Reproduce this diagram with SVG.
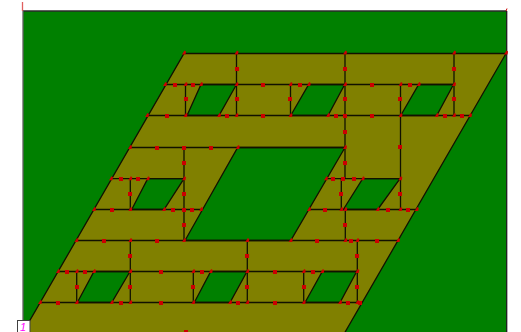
<svg xmlns="http://www.w3.org/2000/svg" xmlns:xlink="http://www.w3.org/1999/xlink" width="521" height="332" viewBox="0 0 521 332">
<style>
.frame{fill:#008000;stroke:none}
.sheet{fill:#808000;stroke:#111100;stroke-width:1.3;fill-rule:evenodd}
.link{fill:none;stroke:#111100;stroke-width:1.3}
.mid{fill:#cc0000;shape-rendering:crispEdges}
.vtx{fill:#cc0000}
.label{font-family:"Liberation Sans",Arial,sans-serif;font-size:11px;font-style:italic;fill:#ff00ff}
</style>
<defs>
<rect id="m" class="mid" x="-2" y="-2" width="4" height="4"/>
<path id="v" class="vtx" d="M-2 1.500 L0.500 -2.500 L2 -1.500 L1.500 1.500 Z"/>
</defs>
<rect width="521" height="332" fill="#ffffff"/>
<g id="field">
<rect class="frame" x="23" y="11" width="483.500" height="321"/>
<path d="M23 11H506.500" stroke="#2a2a2a" stroke-width="1.300" fill="none"/>
<path d="M23 11V320" stroke="#606060" stroke-width="1.300" fill="none"/>
<path d="M506.500 11V332" stroke="#202020" stroke-width="1" fill="none"/>
<path d="M507.500 11V332" stroke="#b0b0b0" stroke-width="1" fill="none"/>
<path d="M22.500 2V11" stroke="#e06060" stroke-width="1.300" fill="none"/>
<path d="M506 11L507 8.500" stroke="#cc0000" stroke-width="1" fill="none"/>
</g>
<g id="sheet">
<path class="sheet" d="M184 53.500H506L344 334H22Z
M201 84.500H236.500L219 115.500H187Z
M308.700 84.500H344.700L328 115.500H290.700Z
M418.700 84.500H453.500L436.700 115.500H400.700Z
M237.700 147.500H345L290.700 240.500H185Z
M147.700 178.700H184L164 209.500H131.700Z
M362.700 178.700H400L377.700 209.500H343.300Z
M94 271.500H130L111.700 302.500H77.300Z
M210.700 271.500H247L230 302.500H194.300Z
M322.300 271.500H356.700L340 302.500H305Z"/>
</g>
<g id="connectors">
<path class="link" d="M165 84.500H454M147 115.500H470M130 147.500H345M111 178.700H184M326 178.700H400M94 209.500H201M309 209.500H416.700M76 240.500H398M58 271.500H357M40 302.500H361.500"/>
<path class="link" d="M236.500 53V115.500M345 53V178.700M454 53V115.500M185.500 84.500V115.500M290.500 84.500V115.500M400.500 84.500V209.500M184 147.500V240.500M130.300 178.700V209.500M341.300 178.700V209.500M345.300 209.500V240.500M130.300 240.500V302.500M247.300 240.500V302.500M357.300 240.500V302.500M76.700 271.500V302.500M193.300 271.500V302.500M303.700 271.500V302.500"/>
</g>
<g id="vertices">
<use href="#v" x="184" y="53"/><use href="#v" x="236.500" y="53"/><use href="#v" x="345" y="53"/><use href="#v" x="454" y="53"/><use href="#v" x="506" y="53"/>
<use href="#v" x="165" y="84.500"/><use href="#v" x="185.500" y="84.500"/><use href="#v" x="201" y="84.500"/><use href="#v" x="236.500" y="84.500"/><use href="#v" x="290.500" y="84.500"/><use href="#v" x="308.700" y="84.500"/><use href="#v" x="345" y="84.500"/><use href="#v" x="400.500" y="84.500"/><use href="#v" x="418.700" y="84.500"/><use href="#v" x="454" y="84.500"/>
<use href="#v" x="147" y="115.500"/><use href="#v" x="185.500" y="115.500"/><use href="#v" x="219" y="115.500"/><use href="#v" x="236.500" y="115.500"/><use href="#v" x="290.500" y="115.500"/><use href="#v" x="328" y="115.500"/><use href="#v" x="400.500" y="115.500"/><use href="#v" x="436.700" y="115.500"/><use href="#v" x="454" y="115.500"/><use href="#v" x="470" y="115.500"/>
<use href="#v" x="130" y="147.500"/><use href="#v" x="237.700" y="147.500"/><use href="#v" x="345" y="147.500"/>
<use href="#v" x="111" y="178.700"/><use href="#v" x="130.300" y="178.700"/><use href="#v" x="147.700" y="178.700"/><use href="#v" x="184" y="178.700"/><use href="#v" x="326" y="178.700"/><use href="#v" x="362.700" y="178.700"/><use href="#v" x="400.300" y="178.700"/>
<use href="#v" x="94" y="209.500"/><use href="#v" x="130.300" y="209.500"/><use href="#v" x="164" y="209.500"/><use href="#v" x="201" y="209.500"/><use href="#v" x="309" y="209.500"/><use href="#v" x="341.300" y="209.500"/><use href="#v" x="345.300" y="209.500"/><use href="#v" x="377.700" y="209.500"/><use href="#v" x="400.300" y="209.500"/><use href="#v" x="416.700" y="209.500"/>
<use href="#v" x="76.500" y="240.500"/><use href="#v" x="130.300" y="240.500"/><use href="#v" x="184" y="240.500"/><use href="#v" x="247.300" y="240.500"/><use href="#v" x="290.700" y="240.500"/><use href="#v" x="345.300" y="240.500"/><use href="#v" x="357.300" y="240.500"/><use href="#v" x="398" y="240.500"/>
<use href="#v" x="58" y="271.500"/><use href="#v" x="76.700" y="271.500"/><use href="#v" x="94" y="271.500"/><use href="#v" x="130.300" y="271.500"/><use href="#v" x="193.300" y="271.500"/><use href="#v" x="210.700" y="271.500"/><use href="#v" x="247.300" y="271.500"/><use href="#v" x="303.700" y="271.500"/><use href="#v" x="322.300" y="271.500"/><use href="#v" x="357.300" y="271.500"/>
<use href="#v" x="40" y="302.500"/><use href="#v" x="76.700" y="302.500"/><use href="#v" x="111.700" y="302.500"/><use href="#v" x="130.300" y="302.500"/><use href="#v" x="193.300" y="302.500"/><use href="#v" x="230" y="302.500"/><use href="#v" x="247.300" y="302.500"/><use href="#v" x="303.700" y="302.500"/><use href="#v" x="340" y="302.500"/><use href="#v" x="357.300" y="302.500"/>
</g>
<g id="midpoints">
<use href="#m" x="237" y="69"/><use href="#m" x="345" y="69"/><use href="#m" x="454" y="69"/>
<use href="#m" x="175" y="85"/><use href="#m" x="193" y="85"/><use href="#m" x="263" y="85"/><use href="#m" x="300" y="85"/><use href="#m" x="372" y="85"/><use href="#m" x="410" y="85"/>
<use href="#m" x="186" y="99"/><use href="#m" x="237" y="99"/><use href="#m" x="290" y="99"/><use href="#m" x="345" y="99"/><use href="#m" x="400" y="99"/><use href="#m" x="454" y="99"/>
<use href="#m" x="167" y="116"/><use href="#m" x="227" y="116"/><use href="#m" x="263" y="116"/><use href="#m" x="336" y="116"/><use href="#m" x="345" y="116"/><use href="#m" x="372" y="116"/><use href="#m" x="445" y="116"/><use href="#m" x="462" y="116"/>
<use href="#m" x="345" y="132"/><use href="#m" x="400" y="147"/>
<use href="#m" x="157" y="148"/><use href="#m" x="184" y="148"/><use href="#m" x="211" y="148"/>
<use href="#m" x="184" y="163"/><use href="#m" x="345" y="163"/>
<use href="#m" x="121" y="179"/><use href="#m" x="138" y="179"/><use href="#m" x="333" y="179"/><use href="#m" x="343" y="179"/><use href="#m" x="354" y="179"/>
<use href="#m" x="130" y="194"/><use href="#m" x="184" y="194"/><use href="#m" x="341" y="194"/><use href="#m" x="400" y="194"/>
<use href="#m" x="112" y="210"/><use href="#m" x="173" y="210"/><use href="#m" x="184" y="210"/><use href="#m" x="192" y="210"/><use href="#m" x="325" y="210"/><use href="#m" x="388" y="210"/><use href="#m" x="408" y="210"/>
<use href="#m" x="184" y="225"/><use href="#m" x="345" y="225"/>
<use href="#m" x="104" y="241"/><use href="#m" x="157" y="241"/><use href="#m" x="317" y="241"/><use href="#m" x="351" y="241"/><use href="#m" x="377" y="241"/>
<use href="#m" x="130" y="256"/><use href="#m" x="247" y="256"/><use href="#m" x="357" y="256"/>
<use href="#m" x="67" y="272"/><use href="#m" x="85" y="272"/><use href="#m" x="161" y="272"/><use href="#m" x="202" y="272"/><use href="#m" x="275" y="272"/><use href="#m" x="313" y="272"/>
<use href="#m" x="77" y="287"/><use href="#m" x="130" y="287"/><use href="#m" x="193" y="287"/><use href="#m" x="247" y="287"/><use href="#m" x="304" y="287"/><use href="#m" x="357" y="287"/>
<use href="#m" x="58" y="303"/><use href="#m" x="121" y="303"/><use href="#m" x="161" y="303"/><use href="#m" x="238" y="303"/><use href="#m" x="275" y="303"/><use href="#m" x="348" y="303"/><use href="#m" x="360" y="303"/>
<use href="#m" x="186" y="332"/>
</g>
<g id="node-1">
<rect x="17.500" y="320.500" width="12.500" height="13" fill="#ffffff" stroke="#404040" stroke-width="1"/>
<text class="label" x="20" y="331">1</text>
</g>
</svg>
